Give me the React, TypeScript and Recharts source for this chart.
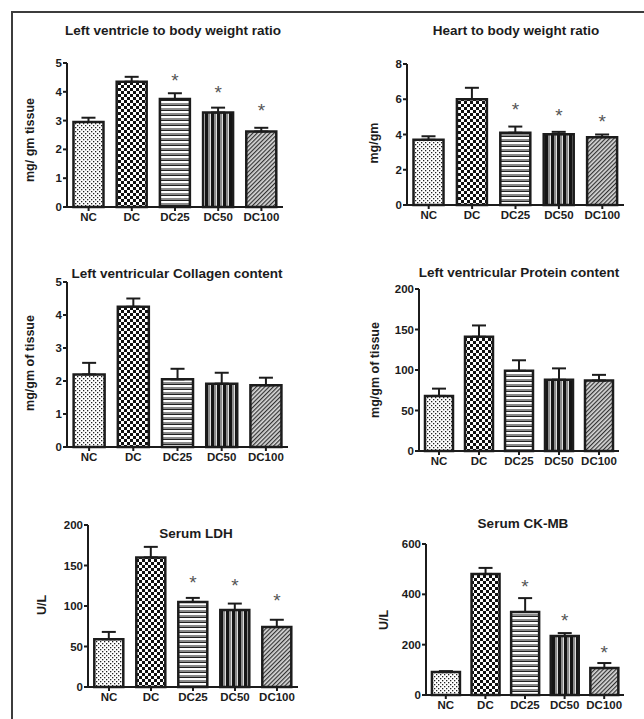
import React from "react";
import {
  Bar,
  Cell,
  ComposedChart,
  ErrorBar,
  Scatter,
  XAxis,
  YAxis,
} from "recharts";

const groups = ["NC", "DC", "DC25", "DC50", "DC100"];
const fills = ["url(#pNC)", "url(#pDC)", "url(#pDC25)", "url(#pDC50)", "url(#pDC100)"];

// LV / body weight
const lvMeans = [2.95, 4.35, 3.75, 3.28, 2.62];
const lvErrs = [0.15, 0.17, 0.2, 0.17, 0.13];
const lvStars = [null, null, 4.48, 4.06, 3.44];
const lvTicks = [0, 1, 2, 3, 4, 5];

// heart / body weight
const heartMeans = [3.7, 6.0, 4.1, 4.02, 3.85];
const heartErrs = [0.2, 0.65, 0.35, 0.13, 0.15];
const heartStars = [null, null, 5.56, 5.2, 4.9];
const heartTicks = [0, 2, 4, 6, 8];

// collagen
const colMeans = [2.2, 4.25, 2.05, 1.92, 1.87];
const colErrs = [0.35, 0.25, 0.32, 0.33, 0.23];
const colTicks = [0, 1, 2, 3, 4, 5];

// protein
const protMeans = [68, 141, 99, 88, 87];
const protErrs = [9, 14, 13, 14, 7];
const protTicks = [0, 50, 100, 150, 200];

// LDH
const ldhMeans = [59, 160, 105, 95, 74];
const ldhErrs = [9, 13, 5, 8, 9];
const ldhStars = [null, null, 132, 128, 110];
const ldhTicks = [0, 50, 100, 150, 200];

// CK-MB
const ckMeans = [91, 481, 330, 234, 107];
const ckErrs = [4, 24, 55, 12, 20];
const ckStars = [null, null, 441, 306, 179];
const ckTicks = [0, 200, 400, 600];

const FONT = "Arial, 'Liberation Sans', sans-serif";
const INK = "#1c1c1c";

type PanelProps = {
  title: string;
  yLabel: string;
  means: number[];
  errs: number[];
  stars?: (number | null)[];
  ticks: number[];
  // plot box in page pixels
  x0: number;
  x1: number;
  y0: number;
  y1: number;
  titleX: number;
  titleY: number;
  labelX: number;
  labelY: number;
};

const Star = (props: any) => {
  if (props.payload == null || props.payload.star == null) return <g />;
  return (
    <text
      x={props.cx}
      y={props.cy + 9}
      textAnchor="middle"
      fontSize={19}
      fontFamily={FONT}
      fill="#555"
    >
      *
    </text>
  );
};

const Panel = (p: PanelProps) => {
  const data = groups.map((g, i) => ({
    name: g,
    value: p.means[i],
    err: [0, p.errs[i]],
    star: p.stars ? p.stars[i] : null,
  }));
  const yw = 60;
  const top = 20;
  const right = 6;
  const xh = 30;
  const w = p.x1 - p.x0 + yw + right;
  const h = p.y1 - p.y0 + top + xh;
  const max = p.ticks[p.ticks.length - 1];
  const tickStyle = { fill: INK, fontSize: 11.5, fontWeight: "bold", fontFamily: FONT };
  return (
    <>
      <div
        style={{
          position: "absolute",
          left: p.x0 - yw,
          top: p.y0 - top,
          width: w,
          height: h,
        }}
      >
        <ComposedChart
          width={w}
          height={h}
          data={data}
          margin={{ top: top, right: right, left: 0, bottom: 0 }}
          barCategoryGap="15%"
        >
          <XAxis
            dataKey="name"
            interval={0}
            height={xh}
            axisLine={{ stroke: INK, strokeWidth: 2 }}
            tickLine={{ stroke: INK, strokeWidth: 2 }}
            tickSize={4}
            tickMargin={2}
            tick={tickStyle}
          />
          <YAxis
            width={yw}
            domain={[0, max]}
            ticks={p.ticks}
            interval={0}
            axisLine={{ stroke: INK, strokeWidth: 2 }}
            tickLine={{ stroke: INK, strokeWidth: 2 }}
            tickSize={4}
            tickMargin={1}
            tick={tickStyle}
          />
          <Bar
            dataKey="value"
            stroke={INK}
            strokeWidth={2.5}
            isAnimationActive={false}
          >
            {data.map((d, i) => (
              <Cell key={d.name} fill={fills[i]} />
            ))}
            <ErrorBar
              dataKey="err"
              direction="y"
              width={7}
              stroke={INK}
              strokeWidth={2}
            />
          </Bar>
          {p.stars && (
            <Scatter dataKey="star" shape={<Star />} isAnimationActive={false} />
          )}
        </ComposedChart>
      </div>
      <div
        style={{
          position: "absolute",
          left: p.titleX,
          top: p.titleY,
          transform: "translate(-50%, -50%)",
          whiteSpace: "nowrap",
          fontFamily: FONT,
          fontWeight: "bold",
          fontSize: 13.5,
          color: INK,
        }}
      >
        {p.title}
      </div>
      <div
        style={{
          position: "absolute",
          left: p.labelX,
          top: p.labelY,
          transform: "translate(-50%, -50%) rotate(-90deg)",
          whiteSpace: "nowrap",
          fontFamily: FONT,
          fontWeight: "bold",
          fontSize: 12.5,
          color: INK,
        }}
      >
        {p.yLabel}
      </div>
    </>
  );
};

const Patterns = () => (
  <svg width={0} height={0} style={{ position: "absolute" }}>
    <defs>
      <pattern id="pNC" width="4" height="4" patternUnits="userSpaceOnUse">
        <rect width="4" height="4" fill="#fff" />
        <rect x="0" y="0" width="1.3" height="1.3" fill="#222" />
        <rect x="2" y="2" width="1.3" height="1.3" fill="#222" />
      </pattern>
      <pattern id="pDC" width="6" height="6" patternUnits="userSpaceOnUse">
        <rect width="6" height="6" fill="#fff" />
        <rect x="0" y="0" width="3" height="3" fill="#111" />
        <rect x="3" y="3" width="3" height="3" fill="#111" />
      </pattern>
      <pattern id="pDC25" width="5" height="5" patternUnits="userSpaceOnUse">
        <rect width="5" height="5" fill="#fff" />
        <rect x="0" y="0" width="5" height="2" fill="#8c8c8c" />
        <rect x="0" y="2" width="5" height="1" fill="#222" />
      </pattern>
      <pattern id="pDC50" width="6" height="6" patternUnits="userSpaceOnUse">
        <rect width="6" height="6" fill="#ddd" />
        <rect x="0" y="0" width="3" height="6" fill="#151515" />
        <rect x="3" y="0" width="2" height="6" fill="#8c8c8c" />
      </pattern>
      <pattern
        id="pDC100"
        width="3"
        height="3"
        patternUnits="userSpaceOnUse"
        patternTransform="rotate(45)"
      >
        <rect width="3" height="3" fill="#d8d8d8" />
        <rect x="0" y="0" width="1.2" height="3" fill="#333" />
      </pattern>
    </defs>
  </svg>
);

export default function App() {
  return (
    <div
      style={{
        position: "absolute",
        left: 0,
        top: 0,
        width: 644,
        height: 719,
        background: "#fff",
        overflow: "hidden",
      }}
    >
      <Patterns />
      <div
        style={{
          position: "absolute",
          left: 11,
          top: 11,
          width: 640,
          height: 720,
          borderTop: "2px solid #3c3c3c",
          borderLeft: "2px solid #3c3c3c",
        }}
      />
      <Panel
        title="Left ventricle to body weight ratio"
        yLabel="mg/ gm tissue"
        means={lvMeans}
        errs={lvErrs}
        stars={lvStars}
        ticks={lvTicks}
        x0={67}
        x1={283}
        y0={63}
        y1={207}
        titleX={173}
        titleY={30}
        labelX={30}
        labelY={140}
      />
      <Panel
        title="Heart to body weight ratio"
        yLabel="mg/gm"
        means={heartMeans}
        errs={heartErrs}
        stars={heartStars}
        ticks={heartTicks}
        x0={407}
        x1={624}
        y0={64}
        y1={205}
        titleX={516}
        titleY={30}
        labelX={374}
        labelY={143}
      />
      <Panel
        title="Left ventricular Collagen content"
        yLabel="mg/gm of tissue"
        means={colMeans}
        errs={colErrs}
        ticks={colTicks}
        x0={67}
        x1={288}
        y0={282}
        y1={447}
        titleX={177}
        titleY={273}
        labelX={30}
        labelY={363}
      />
      <Panel
        title="Left ventricular Protein content"
        yLabel="mg/gm of tissue"
        means={protMeans}
        errs={protErrs}
        ticks={protTicks}
        x0={419}
        x1={619}
        y0={289}
        y1={451}
        titleX={519}
        titleY={272}
        labelX={375}
        labelY={370}
      />
      <Panel
        title="Serum LDH"
        yLabel="U/L"
        means={ldhMeans}
        errs={ldhErrs}
        stars={ldhStars}
        ticks={ldhTicks}
        x0={88}
        x1={298}
        y0={525}
        y1={687}
        titleX={196}
        titleY={533}
        labelX={42}
        labelY={605}
      />
      <Panel
        title="Serum CK-MB"
        yLabel="U/L"
        means={ckMeans}
        errs={ckErrs}
        stars={ckStars}
        ticks={ckTicks}
        x0={426}
        x1={624}
        y0={544}
        y1={695}
        titleX={523}
        titleY={523}
        labelX={384}
        labelY={620}
      />
    </div>
  );
}
